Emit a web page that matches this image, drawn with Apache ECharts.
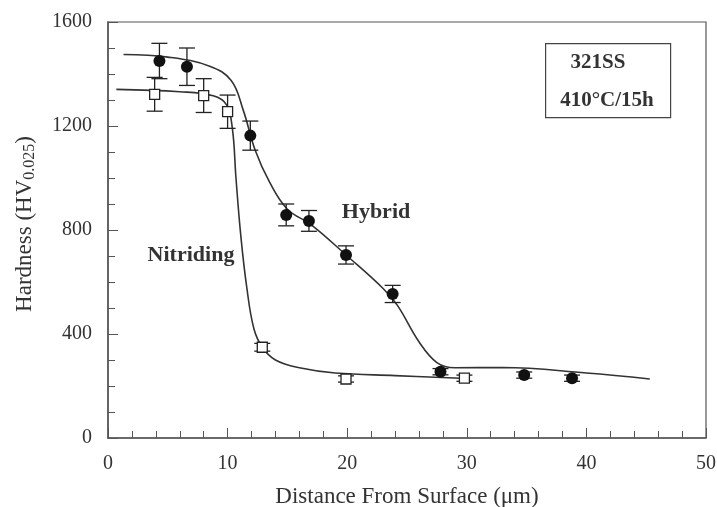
<!DOCTYPE html>
<html>
<head>
<meta charset="utf-8">
<script src="https://cdn.jsdelivr.net/npm/echarts@6/dist/echarts.min.js"></script>
<style>
  html,body{margin:0;padding:0;background:#fff;}
  #chart{width:717px;height:507px;}
</style>
</head>
<body>
<div id="chart"></div>
<script>
// measured points (distance um, hardness HV, error)
var hybridX = [4.3, 6.6, 11.9, 14.9, 16.8, 19.9, 23.8, 27.8, 34.8, 38.8]
var hybridY = [1450, 1428, 1163, 858, 835, 704, 554, 255, 242, 230]
var hybridErr = [68, 72, 56, 42, 40, 35, 33, 12, 12, 12]

var nitrX = [3.9, 8.0, 10.0, 12.9, 19.9, 29.8]
var nitrY = [1322, 1317, 1255, 349, 227, 230]
var nitrErr = [65, 65, 64, 15, 12, 12]

// fitted curves
var hybridCurveX = [1.3, 5.0, 8.5, 10.3, 11.3, 12.3, 13.5, 15.0, 17.0, 20.0, 23.0, 24.2, 26.0, 27.5, 29.0, 33.0, 40.0, 45.3]
var hybridCurveY = [1475, 1465, 1430, 1375, 1262, 1108, 985, 880, 820, 700, 575, 510, 370, 290, 270, 271, 250, 227]

var nitrCurveX = [0.7, 6.0, 8.8, 9.9, 10.4, 10.7, 11.1, 11.6, 12.2, 12.9, 14.0, 16.0, 19.0, 24.0, 29.5]
var nitrCurveY = [1341, 1332, 1316, 1282, 1190, 1000, 780, 580, 420, 349, 300, 270, 250, 240, 230]

var serif = 'Liberation Serif'

function zip(a, b, c){
  var out = []
  for (var i = 0; i < a.length; i++){
    out.push(c ? [a[i], b[i], c[i]] : [a[i], b[i]])
  }
  return out
}

// error bar drawing
function errRender(params, api){
  var x = api.value(0), y = api.value(1), e = api.value(2)
  var hi = api.coord([x, y + e])
  var lo = api.coord([x, y - e])
  var w = 8
  var st = {stroke: '#222', lineWidth: 1.3}
  return {
    type: 'group',
    children: [
      {type: 'line', shape: {x1: hi[0], y1: hi[1], x2: lo[0], y2: lo[1]}, style: st},
      {type: 'line', shape: {x1: hi[0] - w, y1: hi[1], x2: hi[0] + w, y2: hi[1]}, style: st},
      {type: 'line', shape: {x1: lo[0] - w, y1: lo[1], x2: lo[0] + w, y2: lo[1]}, style: st}
    ]
  }
}

var myChart = echarts.init(document.getElementById('chart'))

var axisCol = '#555'
var txtCol = '#333'

var option = {
  backgroundColor: '#fff',
  animation: false,
  grid: {
    left: 108, right: 11, top: 22, bottom: 69,
    outerBoundsMode: 'none',
    show: true, borderColor: axisCol, borderWidth: 1.2
  },
  xAxis: {
    type: 'value', min: 0, max: 50, interval: 10,
    name: 'Distance From Surface (\u03bcm)',
    nameLocation: 'middle', nameGap: 47,
    nameTextStyle: {fontFamily: serif, fontSize: 23, color: txtCol},
    axisLine: {lineStyle: {color: axisCol, width: 1.5}},
    axisTick: {inside: true, length: 10, lineStyle: {color: axisCol}},
    minorTick: {show: true, splitNumber: 5, length: 7, lineStyle: {color: axisCol}},
    axisLabel: {fontFamily: serif, fontSize: 20, color: txtCol, margin: 16},
    splitLine: {show: false}
  },
  yAxis: {
    type: 'value', min: 0, max: 1600, interval: 400,
    name: '{a|Hardness (HV}{b|0.025}{a|)}',
    nameLocation: 'middle', nameGap: 70,
    nameTextStyle: {
      fontFamily: serif, fontSize: 23, color: txtCol,
      padding: [0, 0, 0, 12],
      rich: {
        a: {fontFamily: serif, fontSize: 23, color: txtCol, lineHeight: 26},
        b: {fontFamily: serif, fontSize: 16, color: txtCol, verticalAlign: 'bottom', lineHeight: 12}
      }
    },
    axisLine: {lineStyle: {color: axisCol, width: 1.5}},
    axisTick: {inside: true, length: 10, lineStyle: {color: axisCol}},
    minorTick: {show: true, splitNumber: 4, length: 7, lineStyle: {color: axisCol}},
    axisLabel: {fontFamily: serif, fontSize: 20, color: txtCol, margin: 16,
      formatter: function (v) { return String(v) }},
    splitLine: {show: false}
  },
  graphic: [
    {type: 'rect', left: 545, top: 43, shape: {width: 125, height: 74},
      style: {fill: '#fff', stroke: '#444', lineWidth: 1.2}, z: 10},
    {type: 'text', x: 598, y: 63, z: 11,
      style: {text: '321SS', fontFamily: serif, fontWeight: 'bold', fontSize: 21, fill: txtCol, align: 'center', verticalAlign: 'middle'}},
    {type: 'text', x: 607, y: 101, z: 11,
      style: {text: '410\u00b0C/15h', fontFamily: serif, fontWeight: 'bold', fontSize: 21, fill: txtCol, align: 'center', verticalAlign: 'middle'}},
    {type: 'text', x: 191, y: 255, z: 11,
      style: {text: 'Nitriding', fontFamily: serif, fontWeight: 'bold', fontSize: 22, fill: txtCol, align: 'center', verticalAlign: 'middle'}},
    {type: 'text', x: 376, y: 212, z: 11,
      style: {text: 'Hybrid', fontFamily: serif, fontWeight: 'bold', fontSize: 22, fill: txtCol, align: 'center', verticalAlign: 'middle'}}
  ],
  series: [
    {
      name: 'Hybrid fit', type: 'line', data: zip(hybridCurveX, hybridCurveY),
      smooth: 0.4, showSymbol: false, symbol: 'none',
      lineStyle: {color: '#333', width: 1.6}, z: 2
    },
    {
      name: 'Nitriding fit', type: 'line', data: zip(nitrCurveX, nitrCurveY),
      smooth: 0.4, showSymbol: false, symbol: 'none',
      lineStyle: {color: '#333', width: 1.6}, z: 2
    },
    {
      name: 'Hybrid err', type: 'custom', renderItem: errRender,
      encode: {x: 0, y: 1}, data: zip(hybridX, hybridY, hybridErr), z: 3
    },
    {
      name: 'Nitriding err', type: 'custom', renderItem: errRender,
      encode: {x: 0, y: 1}, data: zip(nitrX, nitrY, nitrErr), z: 3
    },
    {
      name: 'Hybrid', type: 'scatter', data: zip(hybridX, hybridY),
      symbol: 'circle', symbolSize: 12,
      itemStyle: {color: '#111', opacity: 1}, z: 4
    },
    {
      name: 'Nitriding', type: 'scatter', data: zip(nitrX, nitrY),
      symbol: 'rect', symbolSize: 10,
      itemStyle: {color: '#fff', borderColor: '#222', borderWidth: 1.3, opacity: 1}, z: 4
    }
  ]
}

myChart.setOption(option, true)
</script>
</body>
</html>
